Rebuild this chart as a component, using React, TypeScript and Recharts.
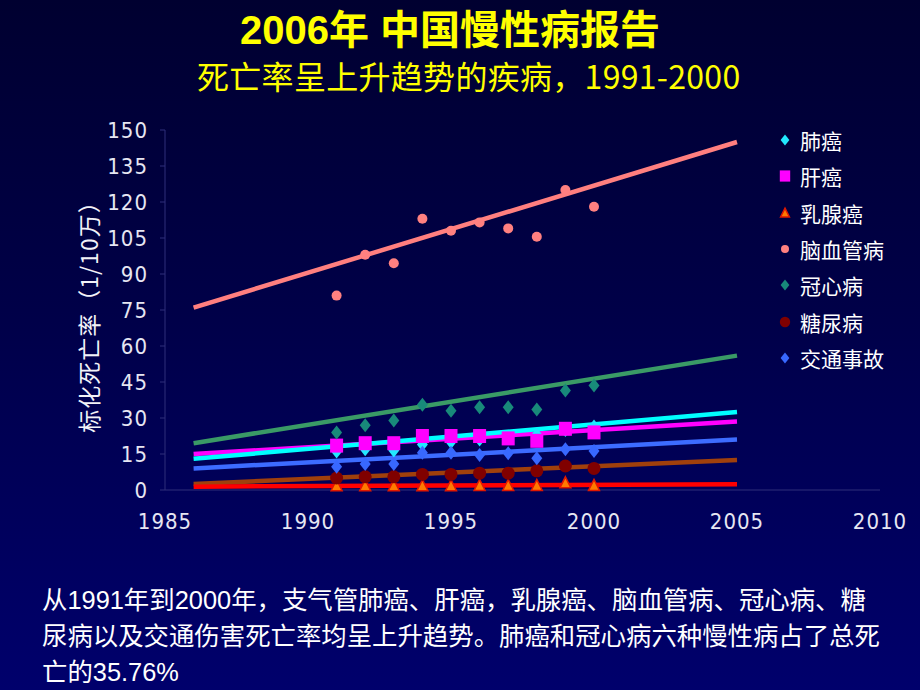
import React from 'react';
import { ComposedChart, Scatter, XAxis, YAxis } from 'recharts';

// observed years and fitted trend endpoints
const years = [1991, 1992, 1993, 1994, 1995, 1996, 1997, 1998, 1999, 2000];
const trendYears = [1986, 2005];
const xTicks = [1985, 1990, 1995, 2000, 2005, 2010];
const yTicks = [0, 15, 30, 45, 60, 75, 90, 105, 120, 135, 150];

const lungCancer = [16, 17, 16.5, 19, 20, 21, 22, 23, 25, 26.5];
const lungCancerTrend = [13, 32.5];
const liverCancer = [18.5, 19.5, 19.5, 22.5, 22.5, 22.5, 21.5, 20.5, 25.5, 24];
const liverCancerTrend = [15, 28.5];
const breastCancer = [1.8, 1.8, 1.8, 1.8, 1.8, 1.9, 1.9, 1.9, 3, 1.9];
const breastCancerTrend = [1.4, 2.4];
const cerebrovascular = [81, 98, 94.5, 113, 108, 111.5, 109, 105.5, 125, 118];
const cerebrovascularTrend = [76, 145];
const coronary = [24, 27, 29, 35.5, 33, 34.5, 34.5, 33.5, 41.5, 43.5];
const coronaryTrend = [19.5, 56];
const diabetes = [5, 5.5, 5.5, 6.5, 6.5, 7, 7, 8, 10, 9];
const diabetesTrend = [2.5, 12.5];
const traffic = [9.7, 10.8, 10.8, 15.5, 15.5, 14.6, 15.3, 13.2, 17, 16.2];
const trafficTrend = [9, 21];

type Marker = 'diamond' | 'square' | 'triangle' | 'circle' | 'bigCircle';

interface Series {
  name: string;
  values: number[];
  trend: number[];
  marker: Marker;
  color: string;
  lineColor: string;
}

const series: Series[] = [
  { name: '肺癌', values: lungCancer, trend: lungCancerTrend, marker: 'diamond', color: '#22E8FF', lineColor: '#00FFFF' },
  { name: '肝癌', values: liverCancer, trend: liverCancerTrend, marker: 'square', color: '#FF00FF', lineColor: '#FF00FF' },
  { name: '乳腺癌', values: breastCancer, trend: breastCancerTrend, marker: 'triangle', color: '#FF7A00', lineColor: '#FF0000' },
  { name: '脑血管病', values: cerebrovascular, trend: cerebrovascularTrend, marker: 'circle', color: '#FF8080', lineColor: '#FF7F7F' },
  { name: '冠心病', values: coronary, trend: coronaryTrend, marker: 'diamond', color: '#188A7A', lineColor: '#3A9A66' },
  { name: '糖尿病', values: diabetes, trend: diabetesTrend, marker: 'bigCircle', color: '#800000', lineColor: '#A0400C' },
  { name: '交通事故', values: traffic, trend: trafficTrend, marker: 'diamond', color: '#3868FF', lineColor: '#3D6CFF' },
];

// draw order of the fitted lines (bottom first)
const lineOrder = ['脑血管病', '冠心病', '糖尿病', '交通事故', '肝癌', '肺癌', '乳腺癌'];

function MarkerShape({ marker, color, cx, cy, k = 1 }: { marker: Marker; color: string; cx: number; cy: number; k?: number }) {
  if (cx == null || cy == null) return <g />;
  switch (marker) {
    case 'diamond':
      return (
        <polygon
          points={`${cx},${cy - 7 * k} ${cx + 5.5 * k},${cy} ${cx},${cy + 7 * k} ${cx - 5.5 * k},${cy}`}
          fill={color}
        />
      );
    case 'square':
      return <rect x={cx - 6.5 * k} y={cy - 7 * k} width={13 * k} height={14 * k} fill={color} />;
    case 'triangle':
      return (
        <polygon
          points={`${cx},${cy - 6 * k} ${cx + 5.5 * k},${cy + 5 * k} ${cx - 5.5 * k},${cy + 5 * k}`}
          fill={color}
          stroke="#E01800"
          strokeWidth={1.5}
        />
      );
    case 'circle':
      return <circle cx={cx} cy={cy} r={5 * k} fill={color} />;
    default:
      return <circle cx={cx} cy={cy} r={6.5 * k} fill={color} />;
  }
}

const tickStyle = {
  fill: '#E6E6F2',
  fontSize: 22,
  fontFamily: "'Liberation Sans Narrow', 'DejaVu Sans Condensed', sans-serif",
  letterSpacing: 1,
};

const cjk = "'Liberation Sans', 'Noto Sans CJK SC', sans-serif";

export default function App() {
  const trendData = (s: Series) => trendYears.map((year, i) => ({ year, value: s.trend[i] }));
  const pointData = (s: Series) => years.map((year, i) => ({ year, value: s.values[i] }));

  return (
    <div
      style={{
        position: 'absolute',
        left: 0,
        top: 0,
        width: 920,
        height: 690,
        overflow: 'hidden',
        background: 'linear-gradient(to bottom, #000030 0%, #000048 45%, #00006C 100%)',
        fontFamily: cjk,
      }}
    >
      <div
        style={{
          position: 'absolute',
          left: 0,
          top: 10,
          width: 900,
          textAlign: 'center',
          color: '#FFFF00',
          fontSize: 40,
          fontWeight: 700,
          lineHeight: '40px',
          whiteSpace: 'nowrap',
        }}
      >
        2006年 中国慢性病报告
      </div>
      <div
        style={{
          position: 'absolute',
          left: 197,
          top: 58,
          color: '#FFFF00',
          fontSize: 32,
          lineHeight: '34px',
          fontFamily: "'Noto Sans CJK SC', sans-serif",
          whiteSpace: 'nowrap',
          letterSpacing: 0.3,
        }}
      >
        死亡率呈上升趋势的疾病，1991-2000
      </div>

      <ComposedChart width={920} height={560} margin={{ top: 130, right: 40, bottom: 30, left: 100 }}>
        <XAxis
          dataKey="year"
          type="number"
          domain={[1985, 2010]}
          ticks={xTicks}
          tick={tickStyle}
          tickLine={false}
          tickSize={6}
          tickMargin={17}
          height={40}
          axisLine={{ stroke: '#2E2E7A' }}
        />
        <YAxis
          dataKey="value"
          type="number"
          domain={[0, 150]}
          ticks={yTicks}
          tick={tickStyle}
          tickSize={5}
          tickMargin={12}
          width={65}
          tickLine={{ stroke: '#2E2E7A' }}
          axisLine={{ stroke: '#2E2E7A' }}
        />
        {lineOrder.map((name) => {
          const s = series.find((x) => x.name === name)!;
          return (
            <Scatter
              key={`trend-${name}`}
              name={`${name}趋势`}
              data={trendData(s)}
              line={{ stroke: s.lineColor, strokeWidth: 4.5 }}
              shape={() => <g />}
              legendType="none"
              isAnimationActive={false}
            />
          );
        })}
        {series.map((s) => (
          <Scatter
            key={s.name}
            name={s.name}
            data={pointData(s)}
            shape={(p: any) => <MarkerShape marker={s.marker} color={s.color} cx={p.cx} cy={p.cy} />}
            isAnimationActive={false}
          />
        ))}
      </ComposedChart>

      <div
        style={{
          position: 'absolute',
          left: 88,
          top: 311,
          transform: 'translate(-50%, -50%) rotate(-90deg)',
          color: '#F2F2F8',
          fontSize: 23,
          whiteSpace: 'nowrap',
          fontFamily: "'Noto Sans CJK SC', sans-serif",
          letterSpacing: 1,
        }}
      >
        标化死亡率（1/10万）
      </div>

      <div style={{ position: 'absolute', left: 772, top: 122 }}>
        {series.map((s) => (
          <div key={s.name} style={{ display: 'flex', alignItems: 'center', height: 36.3 }}>
            <svg width={26} height={20}>
              <MarkerShape marker={s.marker} color={s.color} cx={13} cy={10} k={0.8} />
            </svg>
            <span
              style={{
                color: '#FFFFFF',
                fontSize: 21,
                marginLeft: 2,
                fontFamily: "'Noto Sans CJK SC', sans-serif",
                whiteSpace: 'nowrap',
              }}
            >
              {s.name}
            </span>
          </div>
        ))}
      </div>

      <div
        style={{
          position: 'absolute',
          left: 42,
          top: 582,
          color: '#FFFFFF',
          fontSize: 25.4,
          lineHeight: '36px',
          whiteSpace: 'nowrap',
        }}
      >
        <div>从1991年到2000年，支气管肺癌、肝癌，乳腺癌、脑血管病、冠心病、糖</div>
        <div>尿病以及交通伤害死亡率均呈上升趋势。肺癌和冠心病六种慢性病占了总死</div>
        <div>亡的35.76%</div>
      </div>
    </div>
  );
}
